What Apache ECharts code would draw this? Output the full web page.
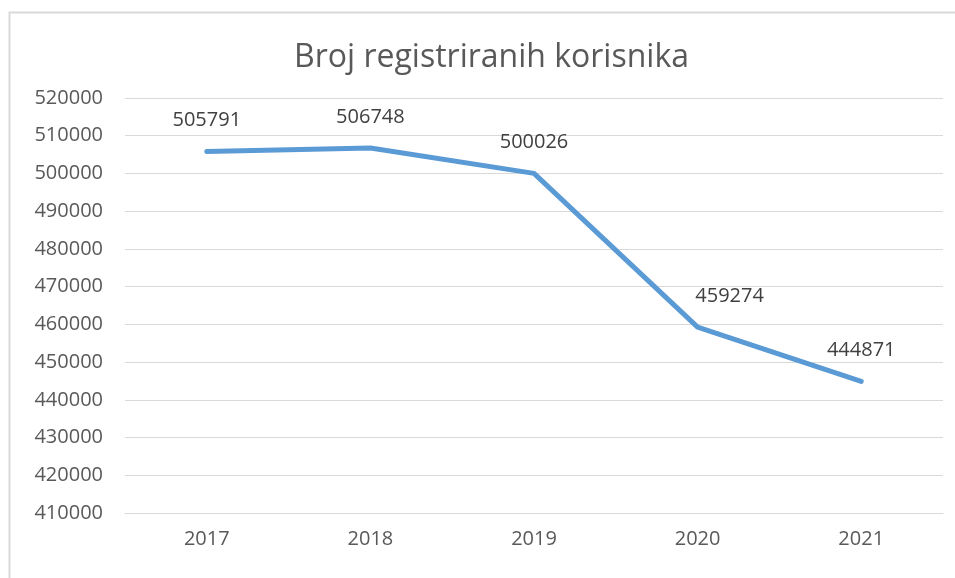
<!DOCTYPE html>
<html>
<head>
<meta charset="utf-8">
<script src="https://cdn.jsdelivr.net/npm/echarts@6/dist/echarts.min.js"></script>
<style>
  html, body { margin: 0; padding: 0; background: #fff; }
  #chart { width: 955px; height: 578px; }
</style>
</head>
<body>
<div id="chart"></div>
<script>
// Data
const years = ['2017', '2018', '2019', '2020', '2021'];
const users = [505791, 506748, 500026, 459274, 444871];
const titleText = 'Broj registriranih korisnika';

const chart = echarts.init(document.getElementById('chart'));

const textColor = '#595959';
const font = '"Open Sans", sans-serif';

const option = {
  animation: false,
  backgroundColor: '#fff',
  graphic: [{
    type: 'rect',
    left: 7, top: 10,
    shape: { width: 1000, height: 600 },
    style: { fill: 'none', stroke: '#d9d9d9', lineWidth: 2 },
    silent: true
  }],
  title: {
    text: titleText,
    left: 289,
    top: 37,
    textStyle: { color: textColor, fontSize: 32, fontWeight: 'normal', fontFamily: font }
  },
  grid: { left: 125, right: 12, top: 98, bottom: 65 },
  xAxis: {
    type: 'category',
    data: years,
    boundaryGap: true,
    axisLine: { show: true, lineStyle: { color: '#d9d9d9', width: 1 } },
    axisTick: { show: false },
    axisLabel: { color: textColor, fontSize: 20, fontFamily: font, margin: 16 }
  },
  yAxis: {
    type: 'value',
    min: 410000,
    max: 520000,
    interval: 10000,
    axisLine: { show: false },
    axisTick: { show: false },
    splitLine: { lineStyle: { color: '#d9d9d9', width: 1 } },
    axisLabel: { color: textColor, fontSize: 20, fontFamily: font, margin: 22, formatter: v => String(v) }
  },
  series: [{
    type: 'line',
    data: users.map((v, i) => i === 3
      ? { value: v, label: { offset: [32, 0] } }
      : v),
    showSymbol: true,
    symbol: 'circle',
    symbolSize: 2,
    lineStyle: { color: '#5b9bd5', width: 5, cap: 'round', join: 'round' },
    itemStyle: { color: '#5b9bd5' },
    label: {
      show: true,
      position: 'top',
      distance: 20,
      color: '#404040',
      fontSize: 20,
      fontFamily: font,
      formatter: p => String(p.value)
    }
  }]
};

chart.setOption(option);
</script>
</body>
</html>
